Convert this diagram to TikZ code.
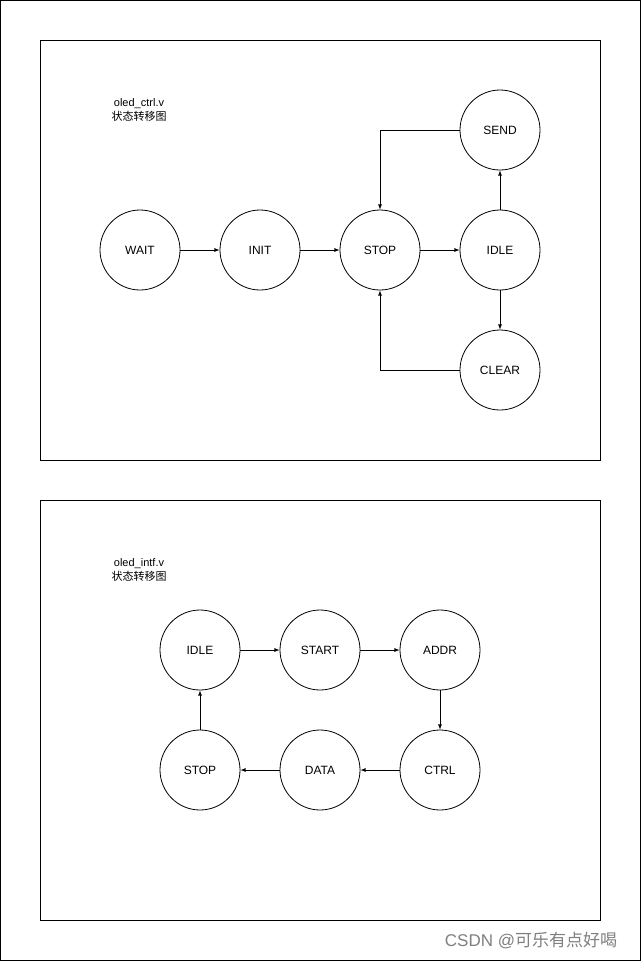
\documentclass[tikz,border=0pt]{standalone}
\usepackage{fontspec}
\setmainfont{Liberation Sans}
\newfontfamily\cjk{Noto Sans CJK SC}
\begin{document}
\begin{tikzpicture}[x=1pt,y=-1pt,
  st/.style={circle,draw,line width=0.8pt,minimum size=80pt,inner sep=0pt,font=\fontsize{12}{14}\selectfont},
  ar/.style={-latex,line width=0.8pt},
  frame/.style={draw,line width=0.8pt}]
\fill[white] (0,0) rectangle (641,961);
\draw[line width=0.8pt] (0.5,0.5) rectangle (640.5,960.5);
\draw[frame] (40,40) rectangle (600,460);
\draw[frame] (40,500) rectangle (600,920);
\node[align=center,font=\fontsize{11}{14}\selectfont] (t1) at (139,110) {oled\_ctrl.v\\{\cjk 状态转移图}};
\node[align=center,font=\fontsize{11}{14}\selectfont] (t2) at (139,570) {oled\_intf.v\\{\cjk 状态转移图}};
\node[st] (wait) at (140,250) {WAIT};
\node[st] (init) at (260,250) {INIT};
\node[st] (stop) at (380,250) {STOP};
\node[st] (idle) at (500,250) {IDLE};
\node[st] (send) at (500,130) {SEND};
\node[st] (clear) at (500,370) {CLEAR};
\draw[ar] (wait) -- (init);
\draw[ar] (init) -- (stop);
\draw[ar] (stop) -- (idle);
\draw[ar] (idle) -- (send);
\draw[ar] (idle) -- (clear);
\draw[ar] (send.west) -| (stop.north);
\draw[ar] (clear.west) -| (stop.south);
\node[st] (i2) at (200,650) {IDLE};
\node[st] (s2) at (320,650) {START};
\node[st] (a2) at (440,650) {ADDR};
\node[st] (c2) at (440,770) {CTRL};
\node[st] (d2) at (320,770) {DATA};
\node[st] (p2) at (200,770) {STOP};
\draw[ar] (i2) -- (s2);
\draw[ar] (s2) -- (a2);
\draw[ar] (a2) -- (c2);
\draw[ar] (c2) -- (d2);
\draw[ar] (d2) -- (p2);
\draw[ar] (p2) -- (i2);
\node[text=gray,font=\fontsize{17}{19}\selectfont] (wm) at (531,941) {CSDN @{\cjk 可乐有点好喝}};
\end{tikzpicture}
\end{document}
